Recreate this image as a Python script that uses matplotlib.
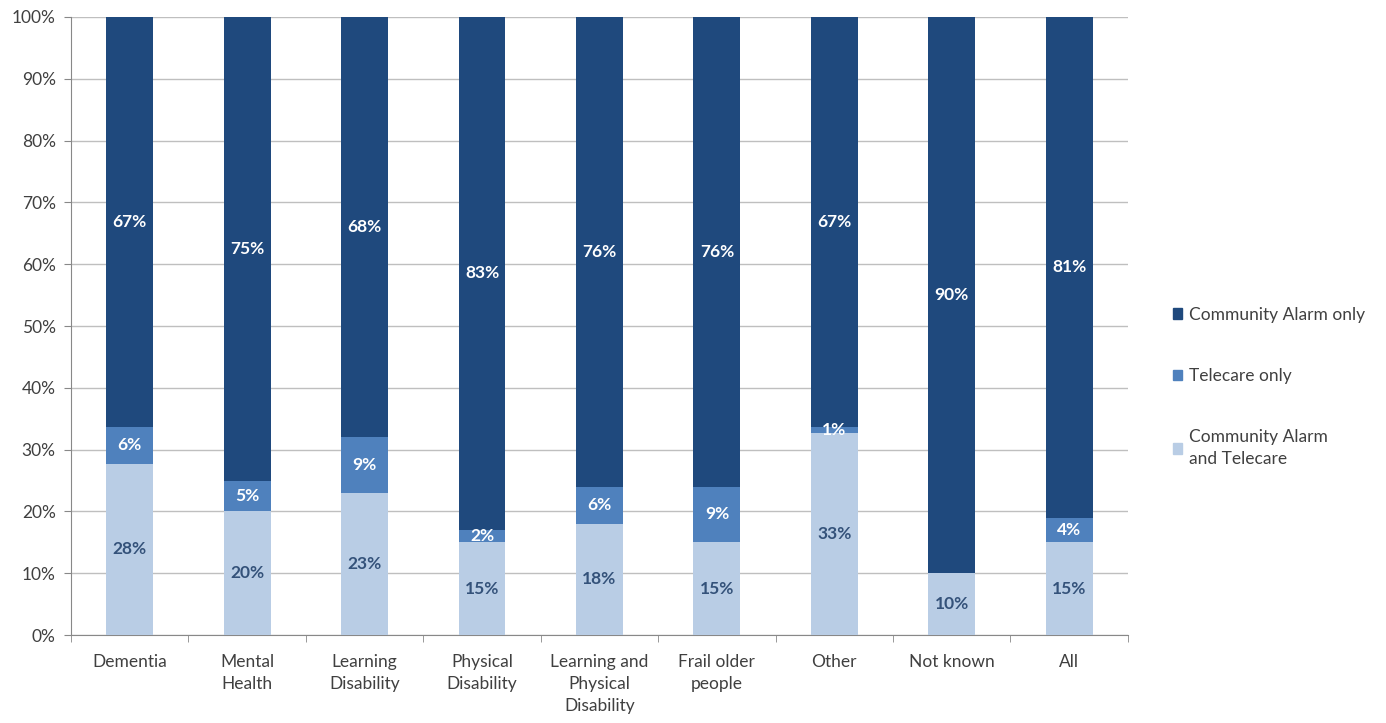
import matplotlib.pyplot as plt
import numpy as np
from matplotlib.patches import Patch

categories = ["Dementia", "Mental\nHealth", "Learning\nDisability", "Physical\nDisability",
              "Learning and\nPhysical\nDisability", "Frail older\npeople", "Other", "Not known", "All"]
alarm_and_telecare = [28, 20, 23, 15, 18, 15, 33, 10, 15]
telecare_only = [6, 5, 9, 2, 6, 9, 1, 0, 4]
alarm_only = [67, 75, 68, 83, 76, 76, 67, 90, 81]

series = [
    ("Community Alarm\nand Telecare", alarm_and_telecare, "#B9CDE5", "#34527A"),
    ("Telecare only", telecare_only, "#4F81BD", "white"),
    ("Community Alarm only", alarm_only, "#1F497D", "white"),
]

plt.rcParams['font.family'] = ['Lato', 'DejaVu Sans']

fig = plt.figure(figsize=(13.86, 7.23), dpi=100)
ax = fig.add_axes([0.0512, 0.1217, 0.7626, 0.8548])

x = np.arange(len(categories))
totals = np.array(alarm_and_telecare) + np.array(telecare_only) + np.array(alarm_only)
bottom = np.zeros(len(categories))
for name, vals, color, txt in series:
    share = np.array(vals) / totals * 100
    ax.bar(x, share, bottom=bottom, width=0.4, color=color, zorder=3)
    for xi, b, s, v in zip(x, bottom, share, vals):
        if v > 0:
            ax.text(xi, b + s / 2, f"{v}%", ha="center", va="center",
                    color=txt, fontsize=12.5, fontweight="bold", zorder=4)
    bottom += share

ax.set_xlim(-0.5, len(categories) - 0.5)
ax.set_ylim(0, 100)
ax.set_yticks(np.arange(0, 101, 10))
ax.set_yticklabels([f"{v}%" for v in range(0, 101, 10)], color="#404040", fontsize=12.5)
ax.set_xticks(x)
ax.set_xticklabels(categories, fontsize=12.5, color="#404040", linespacing=1.45)
ax.set_xticks(np.arange(-0.5, len(categories)), minor=True)
ax.tick_params(axis="x", which="major", length=0, pad=14)
ax.tick_params(axis="x", which="minor", length=5, color="#888888")
ax.tick_params(axis="y", length=5, color="#888888", pad=6)
ax.grid(axis="y", color="#BFBFBF", linewidth=1, zorder=0)
for s in ["top", "right"]:
    ax.spines[s].set_visible(False)
for s in ["left", "bottom"]:
    ax.spines[s].set_color("#888888")

handles = [Patch(color=c, label=n) for n, v, c, t in reversed(series)]
leg = fig.legend(handles=handles, loc="center left", bbox_to_anchor=(0.835, 0.465),
                 frameon=False, fontsize=12.5, handlelength=0.55, handleheight=0.55,
                 handletextpad=0.35, labelspacing=2.6, labelcolor="#404040")
for t in leg.get_texts():
    t.set_linespacing(1.45)

fig.savefig("out.png", dpi=100)
